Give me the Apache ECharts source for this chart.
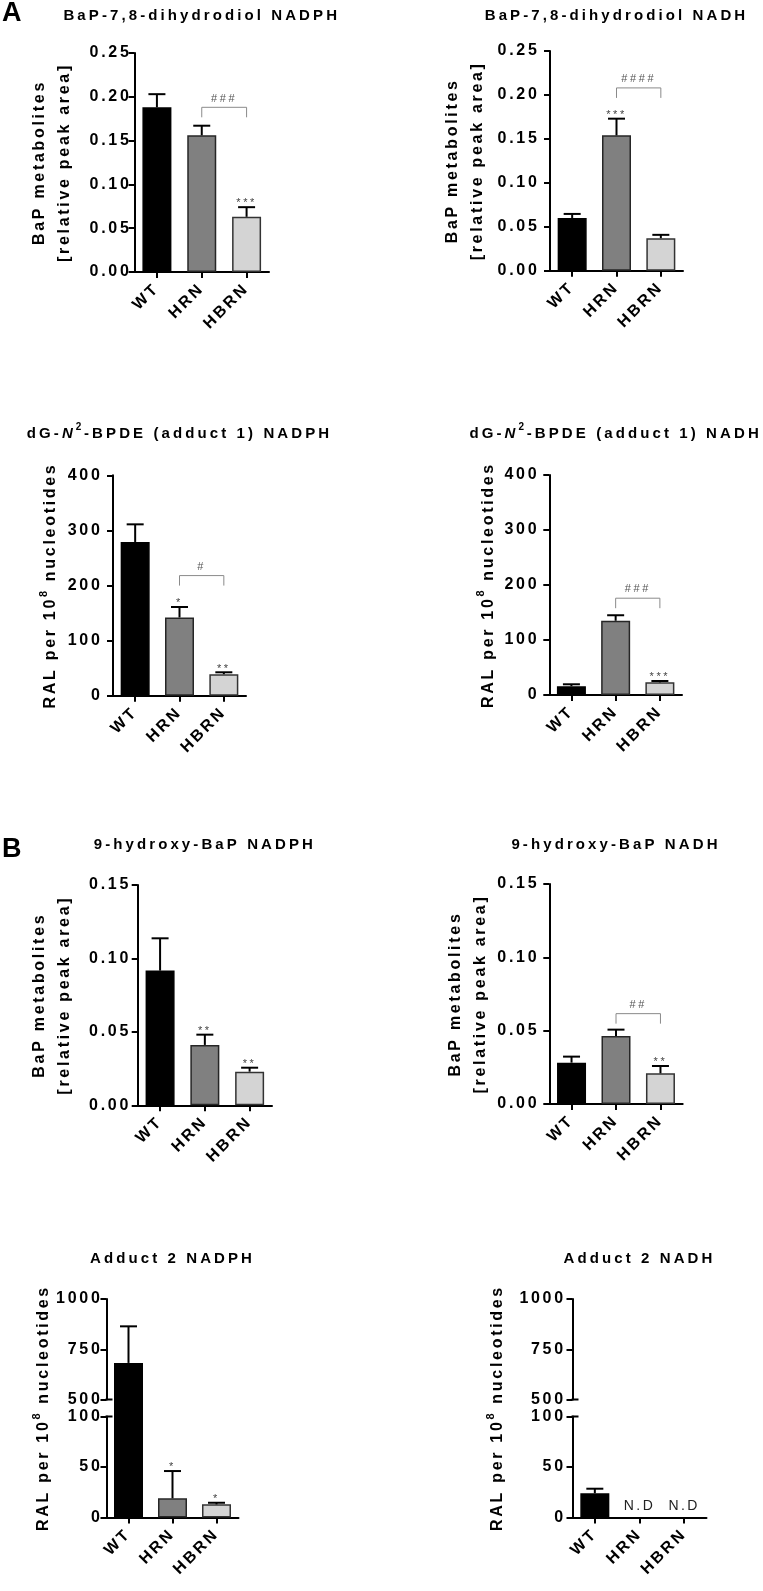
<!DOCTYPE html>
<html>
<head>
<meta charset="utf-8">
<script src="https://cdn.jsdelivr.net/npm/echarts@6.0.0/dist/echarts.min.js"></script>
<style>
html,body{margin:0;padding:0;background:#fff;}
#c{width:763px;height:1591px;}
</style>
</head>
<body>
<div id="c"></div>
<script>
// ---------------- DATA ----------------
const categories = ['WT', 'HRN', 'HBRN'];

// A: BaP-7,8-dihydrodiol
const diolNadphMean = [0.188, 0.156, 0.063];
const diolNadphSem = [0.015, 0.011, 0.011];
const diolNadphStars = ['', '', '***'];
const diolNadphHash = '###';
const diolNadphHashLevel = 0.188;

const diolNadhMean = [0.060, 0.154, 0.037];
const diolNadhSem = [0.0046, 0.019, 0.0038];
const diolNadhStars = ['', '***', ''];
const diolNadhHash = '####';
const diolNadhHashLevel = 0.208;

// A: dG-N2-BPDE (adduct 1)
const add1NadphMean = [279, 142, 39];
const add1NadphSem = [32, 19, 3.5];
const add1NadphStars = ['', '*', '**'];
const add1NadphHash = '#';
const add1NadphHashLevel = 218;

const add1NadhMean = [16, 135, 23];
const add1NadhSem = [3.5, 10, 2.5];
const add1NadhStars = ['', '', '***'];
const add1NadhHash = '###';
const add1NadhHashLevel = 176;

// B: 9-hydroxy-BaP
const hydNadphMean = [0.0917, 0.0411, 0.0229];
const hydNadphSem = [0.022, 0.007, 0.0027];
const hydNadphStars = ['', '**', '**'];

const hydNadhMean = [0.0282, 0.0464, 0.0209];
const hydNadhSem = [0.0041, 0.0043, 0.005];
const hydNadhStars = ['', '', '**'];
const hydNadhHash = '##';
const hydNadhHashLevel = 0.0616;

// B: Adduct 2
const add2NadphMean = [682, 19, 13];
const add2NadphSem = [182, 27, 1.6];
const add2NadphStars = ['', '*', '*'];

const add2NadhMean = [24, null, null];
const add2NadhSem = [4.5, null, null];
const add2NadhNotes = ['', 'N.D', 'N.D'];

// tick labels
const diolTicks = [0, 0.05, 0.10, 0.15, 0.20, 0.25];
const add1Ticks = [0, 100, 200, 300, 400];
const hydTicks = [0, 0.05, 0.10, 0.15];
const add2UpperTicks = [500, 750, 1000];
const add2LowerTicks = [0, 50, 100];

// ---------------- letter spacing (GraphPad-like spaced text) ----------------
(function () {
  const P = CanvasRenderingContext2D.prototype;
  const SP = {10: 2.6, 11: 2.6, 14: 2.4, 15: 3.1, 16: 2.7};
  function apply(ctx) {
    const m = /(\d+(?:\.\d+)?)px/.exec(ctx.font || '');
    const s = m ? (SP[Math.round(+m[1])] || 0) : 0;
    try { ctx.letterSpacing = s + 'px'; } catch (e) {}
  }
  ['fillText', 'strokeText', 'measureText'].forEach(function (fn) {
    const o = P[fn];
    P[fn] = function () { apply(this); return o.apply(this, arguments); };
  });
})();

// ---------------- STYLE ----------------
const FONT = "'Liberation Sans', Arial, sans-serif";
const barColors = ['#000000', '#808080', '#d4d4d4'];
const barBorders = ['#000000', '#262626', '#333333'];
const AX = '#000';

const option = {
  animation: false,
  backgroundColor: '#ffffff',
  textStyle: {fontFamily: FONT},
  title: [], grid: [], xAxis: [], yAxis: [], series: []
};

const nameStyle = {
  color: AX, fontSize: 16, fontWeight: 'bold', fontFamily: FONT, lineHeight: 25,
  rich: {sup: {fontSize: 11, fontWeight: 'bold', fontFamily: FONT, color: AX, padding: [0, 0, 14, 0]}}
};
const titleRich = {
  i: {fontSize: 15, fontWeight: 'bold', fontStyle: 'italic', fontFamily: FONT, color: AX},
  s: {fontSize: 10, fontWeight: 'bold', fontFamily: FONT, color: AX, padding: [0, 0, 13, 0]}
};

function gridCfg(l, t, w, h) {
  return {left: l, top: t, width: w, height: h, containLabel: false, outerBoundsMode: 'none', show: false};
}
function xAxisCfg(gi, show) {
  return {
    type: 'category', gridIndex: gi, data: categories, show: show, boundaryGap: true,
    axisLine: {show: true, onZero: false, lineStyle: {color: AX, width: 2}},
    axisTick: {show: true, alignWithLabel: true, length: 6, lineStyle: {color: AX, width: 2}},
    axisLabel: {show: true, interval: 0, rotate: 45, margin: 14, color: AX, fontSize: 16, fontWeight: 'bold', fontFamily: FONT},
    splitLine: {show: false}
  };
}
function yAxisCfg(gi, ticks, dec, margin, extra) {
  return Object.assign({
    type: 'value', gridIndex: gi,
    min: ticks[0], max: ticks[ticks.length - 1], interval: ticks[1] - ticks[0],
    axisLine: {show: true, lineStyle: {color: AX, width: 2}},
    axisTick: {show: true, length: 6, lineStyle: {color: AX, width: 2}},
    axisLabel: {show: true, margin: margin, color: AX, fontSize: 16, fontWeight: 'bold', fontFamily: FONT,
      formatter: function (v) { return (+v).toFixed(dec); }},
    splitLine: {show: false}
  }, extra || {});
}
function barSeries(xi, yi, mean) {
  return {
    type: 'bar', xAxisIndex: xi, yAxisIndex: yi, barWidth: 29, silent: true, clip: true, z: 2,
    data: mean.map(function (v, i) {
      return v == null ? '-' : {value: v, itemStyle: {color: barColors[i], borderColor: barBorders[i]}};
    }),
    itemStyle: {borderWidth: 1.5}
  };
}
function errSeries(xi, yi, mean, sem, idx) {
  return {
    type: 'custom', xAxisIndex: xi, yAxisIndex: yi, silent: true, z: 3,
    encode: {x: 0, y: [1, 2]},
    data: idx.map(function (i) { return [i, mean[i], mean[i] + sem[i]]; }),
    renderItem: function (params, api) {
      const b = api.coord([api.value(0), api.value(1)]);
      const t = api.coord([api.value(0), api.value(2)]);
      return {type: 'group', children: [
        {type: 'line', shape: {x1: b[0], y1: b[1], x2: t[0], y2: t[1]}, style: {stroke: '#000', lineWidth: 2}},
        {type: 'line', shape: {x1: t[0] - 8.5, y1: t[1], x2: t[0] + 8.5, y2: t[1]}, style: {stroke: '#000', lineWidth: 2}}
      ]};
    }
  };
}
function starSeries(xi, yi, mean, sem, stars, idx) {
  const use = idx.filter(function (i) { return stars[i]; });
  return {
    type: 'custom', xAxisIndex: xi, yAxisIndex: yi, silent: true, z: 4,
    encode: {x: 0, y: 1},
    data: use.map(function (i) { return [i, mean[i] + sem[i]]; }),
    renderItem: function (params, api) {
      const t = api.coord([api.value(0), api.value(1)]);
      return {type: 'text', x: t[0], y: t[1] + 3, style: {
        text: stars[api.value(0)], align: 'center', verticalAlign: 'bottom',
        fontSize: 11, fontFamily: FONT, fill: '#444'}};
    }
  };
}
function bracketSeries(xi, yi, label, level) {
  return {
    type: 'custom', xAxisIndex: xi, yAxisIndex: yi, silent: true, z: 4,
    encode: {x: [0, 1], y: 2},
    data: [[1, 2, level]],
    renderItem: function (params, api) {
      const a = api.coord([api.value(0), api.value(2)]);
      const b = api.coord([api.value(1), api.value(2)]);
      return {type: 'group', children: [
        {type: 'polyline', shape: {points: [[a[0], a[1] + 10], [a[0], a[1]], [b[0], a[1]], [b[0], a[1] + 10]]},
          style: {stroke: '#8a8a8a', lineWidth: 1, fill: null}},
        {type: 'text', x: (a[0] + b[0]) / 2, y: a[1] - 2, style: {
          text: label, align: 'center', verticalAlign: 'bottom', fontSize: 11, fontFamily: FONT, fill: '#555'}}
      ]};
    }
  };
}
function titleCfg(text, cx, cy, size, rich) {
  return {
    text: text, left: cx, top: cy, padding: 0, textAlign: 'center', textVerticalAlign: 'middle',
    textStyle: {fontSize: size || 15, fontWeight: 'bold', fontFamily: FONT, color: AX, rich: rich}
  };
}

function simplePanel(p) {
  const gi = option.grid.length;
  option.grid.push(gridCfg(p.left, p.top, p.width, p.height));
  const xi = option.xAxis.length; option.xAxis.push(xAxisCfg(gi, true));
  const yi = option.yAxis.length;
  option.yAxis.push(yAxisCfg(gi, p.ticks, p.dec, p.labelMargin, {
    name: p.name, nameLocation: 'middle', nameGap: p.nameGap, nameRotate: 90, nameTextStyle: nameStyle
  }));
  option.series.push(barSeries(xi, yi, p.mean));
  option.series.push(errSeries(xi, yi, p.mean, p.sem, [0, 1, 2]));
  option.series.push(starSeries(xi, yi, p.mean, p.sem, p.stars, [0, 1, 2]));
  if (p.hash) option.series.push(bracketSeries(xi, yi, p.hash, p.hashLevel));
  option.title.push(titleCfg(p.title, p.left + p.width / 2, p.titleY, 15, titleRich));
}

function breakTick(xi, yi, v) {
  return {
    type: 'custom', xAxisIndex: xi, yAxisIndex: yi, silent: true, z: 5,
    encode: {x: 0, y: 1}, data: [[0, v]],
    renderItem: function (params, api) {
      const c = api.coord([api.value(0), api.value(1)]);
      const ax = params.coordSys.x;
      return {type: 'line', shape: {x1: ax - 1, y1: c[1], x2: ax + 6, y2: c[1]}, style: {stroke: AX, lineWidth: 2}};
    }
  };
}

function brokenPanel(p) {
  const up = p.upperTicks, lo = p.lowerTicks;
  const lowMax = lo[lo.length - 1];
  // upper
  const gU = option.grid.length;
  option.grid.push(gridCfg(p.left, p.top, p.width, p.upperH));
  const xU = option.xAxis.length; option.xAxis.push(xAxisCfg(gU, false));
  const yU = option.yAxis.length; option.yAxis.push(yAxisCfg(gU, up, 0, p.labelMargin));
  // gap
  const gG = option.grid.length;
  option.grid.push(gridCfg(p.left, p.top + p.upperH, p.width, p.gapH));
  const xG = option.xAxis.length; option.xAxis.push(xAxisCfg(gG, false));
  const yG = option.yAxis.length;
  option.yAxis.push({
    type: 'value', gridIndex: gG, min: lowMax, max: up[0],
    axisLine: {show: false}, axisTick: {show: false}, axisLabel: {show: false}, splitLine: {show: false},
    name: p.name, nameLocation: 'middle', nameGap: p.nameGap, nameRotate: 90, nameTextStyle: nameStyle
  });
  // lower
  const gL = option.grid.length;
  option.grid.push(gridCfg(p.left, p.top + p.upperH + p.gapH, p.width, p.lowerH));
  const xL = option.xAxis.length; option.xAxis.push(xAxisCfg(gL, true));
  const yL = option.yAxis.length; option.yAxis.push(yAxisCfg(gL, lo, 0, p.labelMargin));

  option.series.push(barSeries(xU, yU, p.mean));
  option.series.push(barSeries(xG, yG, p.mean));
  option.series.push(barSeries(xL, yL, p.mean));

  const idxUp = [], idxLo = [];
  p.mean.forEach(function (v, i) { if (v == null) return; (v > lowMax ? idxUp : idxLo).push(i); });
  option.series.push(errSeries(xU, yU, p.mean, p.sem, idxUp));
  option.series.push(errSeries(xL, yL, p.mean, p.sem, idxLo));
  if (p.stars) {
    option.series.push(starSeries(xU, yU, p.mean, p.sem, p.stars, idxUp));
    option.series.push(starSeries(xL, yL, p.mean, p.sem, p.stars, idxLo));
  }
  if (p.notes) {
    const notes = p.notes;
    option.series.push({
      type: 'custom', xAxisIndex: xL, yAxisIndex: yL, silent: true, z: 4,
      encode: {x: 0, y: 1},
      data: notes.map(function (n, i) { return n ? [i, 0] : null; }).filter(Boolean),
      renderItem: function (params, api) {
        const c = api.coord([api.value(0), api.value(1)]);
        return {type: 'text', x: c[0], y: c[1] - 11, style: {
          text: notes[api.value(0)], align: 'center', verticalAlign: 'middle',
          fontSize: 14, fontFamily: FONT, fill: '#222'}};
      }
    });
  }
  option.series.push(breakTick(xU, yU, up[0]));
  option.series.push(breakTick(xL, yL, lowMax));
  option.title.push(titleCfg(p.title, p.left + p.width / 2, p.titleY, 15));
}

const metName = 'BaP metabolites\n[relative peak area]';
const ralName = 'RAL per 10{sup|8} nucleotides';

simplePanel({title: 'BaP-7,8-dihydrodiol NADPH', titleY: 16, left: 134.5, top: 53, width: 134.5, height: 219,
  ticks: diolTicks, dec: 2, labelMargin: 3, name: metName, nameGap: 57,
  mean: diolNadphMean, sem: diolNadphSem, stars: diolNadphStars, hash: diolNadphHash, hashLevel: diolNadphHashLevel});
simplePanel({title: 'BaP-7,8-dihydrodiol NADH', titleY: 16, left: 550, top: 51, width: 133, height: 219.7,
  ticks: diolTicks, dec: 2, labelMargin: 10.5, name: metName, nameGap: 60,
  mean: diolNadhMean, sem: diolNadhSem, stars: diolNadhStars, hash: diolNadhHash, hashLevel: diolNadhHashLevel});
simplePanel({title: 'dG-{i|N}{s|2}-BPDE (adduct 1) NADPH', titleY: 433.5, left: 113, top: 475.3, width: 133, height: 220.4,
  ticks: add1Ticks, dec: 0, labelMargin: 10.5, name: ralName, nameGap: 50,
  mean: add1NadphMean, sem: add1NadphSem, stars: add1NadphStars, hash: add1NadphHash, hashLevel: add1NadphHashLevel});
simplePanel({title: 'dG-{i|N}{s|2}-BPDE (adduct 1) NADH', titleY: 434, left: 549.3, top: 475, width: 132.7, height: 220,
  ticks: add1Ticks, dec: 0, labelMargin: 10, name: ralName, nameGap: 45,
  mean: add1NadhMean, sem: add1NadhSem, stars: add1NadhStars, hash: add1NadhHash, hashLevel: add1NadhHashLevel});
simplePanel({title: '9-hydroxy-BaP NADPH', titleY: 845, left: 137.7, top: 885, width: 134.3, height: 220.3,
  ticks: hydTicks, dec: 2, labelMargin: 6.7, name: metName, nameGap: 60.5,
  mean: hydNadphMean, sem: hydNadphSem, stars: hydNadphStars});
simplePanel({title: '9-hydroxy-BaP NADH', titleY: 844.5, left: 549.3, top: 884, width: 133.4, height: 220,
  ticks: hydTicks, dec: 2, labelMargin: 10, name: metName, nameGap: 49,
  mean: hydNadhMean, sem: hydNadhSem, stars: hydNadhStars, hash: hydNadhHash, hashLevel: hydNadhHashLevel});
brokenPanel({title: 'Adduct 2 NADPH', titleY: 1258.5, left: 106.5, top: 1299, width: 132, upperH: 100.5, gapH: 17, lowerH: 101,
  upperTicks: add2UpperTicks, lowerTicks: add2LowerTicks, labelMargin: 4, name: ralName, nameGap: 50,
  mean: add2NadphMean, sem: add2NadphSem, stars: add2NadphStars});
brokenPanel({title: 'Adduct 2 NADH', titleY: 1259, left: 572.5, top: 1299, width: 134, upperH: 100.5, gapH: 17, lowerH: 101,
  upperTicks: add2UpperTicks, lowerTicks: add2LowerTicks, labelMargin: 6.7, name: ralName, nameGap: 62,
  mean: add2NadhMean, sem: add2NadhSem, notes: add2NadhNotes});

// panel letters
option.title.push({text: 'A', left: 2, top: 14, padding: 0, textAlign: 'left', textVerticalAlign: 'middle',
  textStyle: {fontSize: 27, fontWeight: 'bold', fontFamily: FONT, color: AX}});
option.title.push({text: 'B', left: 2, top: 850, padding: 0, textAlign: 'left', textVerticalAlign: 'middle',
  textStyle: {fontSize: 27, fontWeight: 'bold', fontFamily: FONT, color: AX}});

const chart = echarts.init(document.getElementById('c'), null, {renderer: 'canvas', width: 763, height: 1591});
chart.setOption(option);
</script>
</body>
</html>
